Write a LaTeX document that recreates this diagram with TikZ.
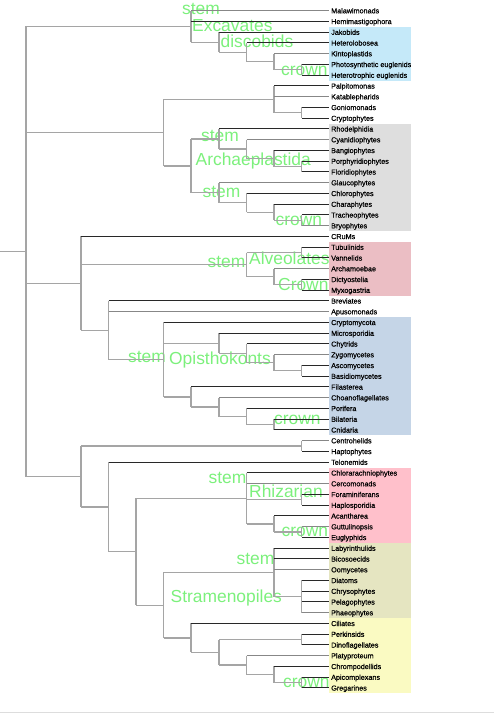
\documentclass[tikz,border=0pt]{standalone}
\usepackage{fontspec}
\setmainfont{Liberation Sans}
\newfontfamily\leaffont[FakeBold=0.5]{Liberation Sans}
\definecolor{cladegreen}{RGB}{124,240,124}
\definecolor{bxexc}{RGB}{197,233,249}
\definecolor{bxarc}{RGB}{222,222,222}
\definecolor{bxamz}{RGB}{235,190,196}
\definecolor{bxopi}{RGB}{197,213,231}
\definecolor{bxrhz}{RGB}{255,192,203}
\definecolor{bxstr}{RGB}{229,229,193}
\definecolor{bxalv}{RGB}{250,250,194}
\definecolor{darkline}{RGB}{40,40,40}
\definecolor{greyline}{RGB}{165,165,165}
\definecolor{greyleaf}{RGB}{135,135,135}
\tikzset{
  branch/.style={draw=greyline,line width=1.25pt},
  leafd/.style={draw=darkline,line width=0.95pt},
  leafg/.style={draw=greyleaf,line width=1.35pt},
  leaflabel/.style={anchor=west,inner sep=0pt,xshift=2pt,text height=5.2pt,text depth=0pt,
    font=\leaffont\fontsize{7.2}{8}\selectfont,text=black},
  cladelabel/.style={anchor=base west,inner sep=0pt,text=cladegreen,
    font=\fontsize{17.4}{20}\selectfont},
}
\begin{document}
\begin{tikzpicture}[x=1pt,y=-1pt]
\useasboundingbox (0,0) rectangle (494,713);
% background boxes
\fill[bxexc] (329,26.83) rectangle (411,80.58);
\fill[bxarc] (329,123.58) rectangle (411,231.08);
\fill[bxamz] (329,241.83) rectangle (411,295.58);
\fill[bxopi] (329,317.08) rectangle (411,435.33);
\fill[bxrhz] (329,467.58) rectangle (411,542.83);
\fill[bxstr] (329,542.83) rectangle (411,618.08);
\fill[bxalv] (329,618.08) rectangle (411,693.33);
\draw[draw={rgb,255:red,221;green,221;blue,221},line width=1pt] (0,712) -- (494,712);
% clade labels
\node[cladelabel] (g1) at (182,14) {stem};
\node[cladelabel] (g2) at (192,31.7) {Excavates};
\node[cladelabel] (g3) at (220.5,47.7) {discobids};
\node[cladelabel] (g4) at (281,75) {crown};
\node[cladelabel] (g5) at (201,141) {stem};
\node[cladelabel] (g6) at (195.5,165) {Archaeplastida};
\node[cladelabel] (g7) at (202.5,197.3) {stem};
\node[cladelabel] (g8) at (275.5,225) {crown};
\node[cladelabel] (g9) at (207.5,267.3) {stem};
\node[cladelabel] (g10) at (249,264.3) {Alveolates};
\node[cladelabel] (g11) at (278,290) {Crown};
\node[cladelabel] (g12) at (128,362.7) {stem};
\node[cladelabel] (g13) at (169,364) {Opisthokonts};
\node[cladelabel] (g14) at (274,424) {crown};
\node[cladelabel] (g15) at (208.5,483.3) {stem};
\node[cladelabel] (g16) at (249,497.3) {Rhizarian};
\node[cladelabel] (g17) at (281.5,536.7) {crown};
\node[cladelabel] (g18) at (236.5,564) {stem};
\node[cladelabel] (g19) at (170.5,602.7) {Stramenopiles};
\node[cladelabel] (g20) at (283,687.7) {crown};
% leaves
\foreach \lab [count=\i] in {Malawimonads,Hemimastigophora,Jakobids,Heterolobosea,Kintoplastids,
  Photosynthetic euglenids,Heterotrophic euglenids,Palpitomonas,Katablepharids,Goniomonads,Cryptophytes,
  Rhodelphidia,Cyanidiophytes,Bangiophytes,Porphyridiophytes,Floridiophytes,Glaucophytes,Chlorophytes,
  Charaphytes,Tracheophytes,Bryophytes,CRuMs,Tubulinids,Vannelids,Archamoebae,Dictyostelia,Myxogastria,
  Breviates,Apusomonads,Cryptomycota,Microsporidia,Chytrids,Zygomycetes,Ascomycetes,Basidiomycetes,
  Filasterea,Choanoflagellates,Porifera,Bilateria,Cnidaria,Centrohelids,Haptophytes,Telonemids,
  Chlorarachniophytes,Cercomonads,Foraminiferans,Haplosporidia,Acantharea,Guttulinopsis,Euglyphids,
  Labyrinthulids,Bicosoecids,Oomycetes,Diatoms,Chrysophytes,Pelagophytes,Phaeophytes,Ciliates,
  Perkinsids,Dinoflagellates,Platyproteum,Chrompodellids,Apicomplexans,Gregarines}
{
  \coordinate (L\i) at (329,{10.7+(\i-1)*10.75});
  \node[leaflabel] (t\i) at (L\i) {\lab};
}
% internal nodes
\coordinate (eu) at (301.8,69.83);
\coordinate (kin) at (274,61.76);
\coordinate (het) at (246.7,52.36);
\coordinate (disc) at (219,42.28);
\coordinate (exc) at (191,26.49);
\coordinate (gc) at (301.8,112.83);
\coordinate (cry) at (274,99.39);
\coordinate (pf) at (301.8,166.58);
\coordinate (bp) at (274,158.51);
\coordinate (cy) at (246.7,149.11);
\coordinate (rho) at (219,139.03);
\coordinate (tb) at (301.8,220.33);
\coordinate (ch) at (274,212.26);
\coordinate (chl) at (246.7,202.86);
\coordinate (gl) at (219,192.78);
\coordinate (arc) at (191,165.9);
\coordinate (dia) at (163.5,132.65);
\coordinate (tv) at (301.8,252.58);
\coordinate (dm) at (301.8,284.83);
\coordinate (ar) at (274,276.76);
\coordinate (amz) at (246.7,264.67);
\coordinate (ab) at (301.8,370.83);
\coordinate (zy) at (274,362.76);
\coordinate (cht) at (246.7,353.36);
\coordinate (mic) at (219,343.28);
\coordinate (bc) at (274,424.58);
\coordinate (por) at (246.7,416.51);
\coordinate (cho) at (219,407.11);
\coordinate (hol) at (191,397.03);
\coordinate (opi) at (163.5,359.74);
\coordinate (oba) at (108.5,330.35);
\coordinate (amo) at (81,283.4);
\coordinate (hap) at (301.8,446.08);
\coordinate (fh) at (301.8,499.83);
\coordinate (ge) at (301.8,532.08);
\coordinate (ac) at (274,524.01);
\coordinate (rhz) at (246.7,498.48);
\coordinate (och) at (301.8,596.58);
\coordinate (str) at (274,572.39);
\coordinate (pd) at (301.8,639.58);
\coordinate (ag) at (301.8,682.58);
\coordinate (chr) at (274,674.51);
\coordinate (pla) at (246.7,665.11);
\coordinate (per) at (219,652.34);
\coordinate (alv) at (191,637.9);
\coordinate (sa) at (163.5,605.14);
\coordinate (sar) at (136,551.81);
\coordinate (tsar) at (108.5,507.0);
\coordinate (bot) at (81,476.54);
\coordinate (root) at (26,251.5);
\coordinate (r0) at (0,251.5);
% vertical bars of each internal node
\foreach \p/\a/\b in {exc/L1/disc,disc/L3/het,het/L4/kin,kin/L5/eu,eu/L6/L7,
  cry/L8/gc,gc/L10/L11,rho/L12/cy,cy/L13/bp,bp/L14/pf,pf/L15/L16,gl/L17/chl,chl/L18/ch,ch/L19/tb,
  tb/L20/L21,arc/rho/gl,dia/cry/arc,amz/tv/ar,tv/L23/L24,ar/L25/dm,dm/L26/L27,ab/L34/L35,zy/L33/ab,
  cht/L32/zy,mic/L31/cht,bc/L39/L40,por/L38/bc,cho/L37/por,hol/L36/cho,opi/L30/hol,oba/L28/opi,
  amo/L22/oba,hap/L41/L42,fh/L46/L47,ge/L49/L50,ac/L48/ge,rhz/L44/ac,och/L54/L57,str/L51/och,
  pd/L59/L60,ag/L63/L64,chr/L62/ag,pla/L61/chr,per/pd/pla,alv/L58/per,sa/str/alv,sar/rhz/sa,
  tsar/L43/sar,bot/hap/tsar,root/exc/bot}
{ \draw[branch] (\p |- \a) -- (\p |- \b); }
% internal horizontal edges
\draw[branch] (r0) -- (root);
\foreach \p/\c in {root/exc,root/dia,root/amo,root/bot,exc/disc,disc/het,het/kin,kin/eu,
  dia/cry,cry/gc,dia/arc,arc/rho,rho/cy,cy/bp,bp/pf,arc/gl,gl/chl,chl/ch,ch/tb,
  amo/amz,amz/tv,amz/ar,ar/dm,amo/oba,oba/opi,opi/mic,mic/cht,cht/zy,zy/ab,opi/hol,hol/cho,cho/por,por/bc,
  bot/hap,bot/tsar,tsar/sar,sar/rhz,rhz/fh,rhz/ac,ac/ge,sar/sa,sa/str,str/och,sa/alv,alv/per,per/pd,
  per/pla,pla/chr,chr/ag}
{ \draw[branch] (\p |- \c) -- (\c); }
% leaf edges
\foreach \p [count=\i] in {exc,exc,disc,het,kin,eu,eu,cry,cry,gc,gc,rho,cy,bp,pf,pf,gl,chl,ch,tb,tb,
  amo,tv,tv,ar,dm,dm,oba,oba,opi,mic,cht,zy,ab,ab,hol,cho,por,bc,bc,hap,hap,tsar,rhz,rhz,fh,fh,ac,ge,ge,
  str,str,str,och,och,och,och,alv,pd,pd,pla,chr,ag,ag}
{
  \pgfmathtruncatemacro\r{mod(\i,4)}
  \ifnum\r=1
    \draw[leafg] (\p |- L\i) -- (L\i);
  \else
    \draw[leafd] (\p |- L\i) -- (L\i);
  \fi
}
\end{tikzpicture}
\end{document}
